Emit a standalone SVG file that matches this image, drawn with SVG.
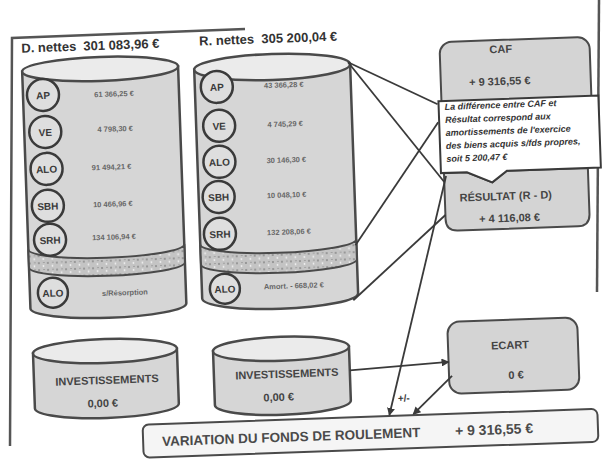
<svg xmlns="http://www.w3.org/2000/svg" width="604" height="468" viewBox="0 0 604 468">
<defs>
<style>
.cyl{fill:#d6d6d6;stroke:#4a4a4a;stroke-width:2.5}
.top{fill:#ebebeb;stroke:#4a4a4a;stroke-width:2.5}
.band{fill:url(#speck);stroke:#4a4a4a;stroke-width:2}
.circ{fill:#dedede;stroke:#3a3a3a;stroke-width:2.5}
.ct{font-family:"Liberation Sans",Arial,sans-serif;font-weight:bold;font-size:10px;fill:#3a3a3a;text-anchor:middle}
.val{font-family:"Liberation Sans",Arial,sans-serif;font-weight:bold;font-size:7.5px;fill:#666;text-anchor:middle}
.ttl{font-family:"Liberation Sans",Arial,sans-serif;font-weight:bold;font-size:13px;fill:#333}
.big{font-family:"Liberation Sans",Arial,sans-serif;font-weight:bold;font-size:11px;fill:#444;text-anchor:middle}
.lbl{font-family:"Liberation Sans",Arial,sans-serif;font-weight:bold;fill:#4a4a4a;text-anchor:start}
.box{fill:#d4d4d4;stroke:#4a4a4a;stroke-width:2}
.note{font-family:"Liberation Sans",Arial,sans-serif;font-weight:bold;font-style:italic;font-size:9px;fill:#333}
.con{stroke:#3a3a3a;stroke-width:1.8;fill:none}
.frm{stroke:#555;stroke-width:2.5;fill:none}
</style>
<pattern id="speck" width="9" height="7" patternUnits="userSpaceOnUse">
<rect width="9" height="7" fill="#c4c4c4"/>
<circle cx="2" cy="2" r="1" fill="#8a8a8a"/>
<circle cx="6.5" cy="5" r="0.9" fill="#f2f2f2"/>
<circle cx="7" cy="1.5" r="0.6" fill="#777"/>
</pattern>
<marker id="ah" markerWidth="8" markerHeight="8" refX="7" refY="4" orient="auto" markerUnits="userSpaceOnUse">
<path d="M0,0 L8,4 L0,8 z" fill="#3a3a3a"/>
</marker>
</defs>
<rect width="604" height="468" fill="#ffffff"/>
<g id="frame">
<path class="frm" d="M10,446 L12,38 L245,29"/>
<path class="frm" d="M599,0 L597,292"/>
</g>
<g transform="rotate(-2 302 234)">
<g id="depenses">
<text class="ttl" x="28" y="43" xml:space="preserve">D. nettes  301 083,96 €</text>
<path class="cyl" d="M28,62 L28,299 A78,12 0 0 0 184,299 L184,62 Z"/>
<ellipse class="top" cx="106" cy="62" rx="78" ry="12"/>
<path class="band" d="M28,240 A78,11 0 0 0 184,240 L184,258 A78,11 0 0 1 28,258 Z"/>
<g id="d-ap"><circle class="circ" cx="48" cy="86" r="16"/><text class="ct" x="48" y="90">AP</text><text class="val" x="119" y="90">61 366,25 €</text></g>
<g id="d-ve"><circle class="circ" cx="49" cy="123" r="16"/><text class="ct" x="49" y="127">VE</text><text class="val" x="119" y="125">4 798,30 €</text></g>
<g id="d-alo"><circle class="circ" cx="49" cy="160" r="16"/><text class="ct" x="49" y="164">ALO</text><text class="val" x="114" y="163">91 494,21 €</text></g>
<g id="d-sbh"><circle class="circ" cx="49" cy="197" r="16"/><text class="ct" x="49" y="201">SBH</text><text class="val" x="114" y="200">10 466,96 €</text></g>
<g id="d-srh"><circle class="circ" cx="50" cy="231" r="16"/><text class="ct" x="50" y="235">SRH</text><text class="val" x="114" y="233">134 106,94 €</text></g>
<g id="d-alo2"><circle class="circ" cx="51" cy="284" r="15"/><text class="ct" x="51" y="288">ALO</text><text class="val" x="123" y="289">s/Résorption</text></g>
</g>
<g id="recettes">
<text class="ttl" x="206" y="42" xml:space="preserve">R. nettes  305 200,04 €</text>
<path class="cyl" d="M200,66 L200,295 A78,13 0 0 0 356,295 L356,66 Z"/>
<ellipse class="top" cx="278" cy="66" rx="78" ry="13"/>
<path class="band" d="M200,241 A78,11 0 0 0 356,241 L356,261 A78,11 0 0 1 200,261 Z"/>
<g id="r-ap"><circle class="circ" cx="222" cy="84" r="16"/><text class="ct" x="222" y="88">AP</text><text class="val" x="289" y="87">43 366,28 €</text></g>
<g id="r-ve"><circle class="circ" cx="223" cy="123" r="16"/><text class="ct" x="223" y="127">VE</text><text class="val" x="289" y="126">4 745,29 €</text></g>
<g id="r-alo"><circle class="circ" cx="222" cy="159" r="16"/><text class="ct" x="222" y="163">ALO</text><text class="val" x="289" y="162">30 146,30 €</text></g>
<g id="r-sbh"><circle class="circ" cx="220" cy="194" r="16"/><text class="ct" x="220" y="198">SBH</text><text class="val" x="288" y="197">10 048,10 €</text></g>
<g id="r-srh"><circle class="circ" cx="220" cy="231" r="16"/><text class="ct" x="220" y="235">SRH</text><text class="val" x="289" y="234">132 208,06 €</text></g>
<g id="r-alo2"><circle class="circ" cx="223" cy="286" r="15"/><text class="ct" x="223" y="290">ALO</text><text class="val" x="292" y="288">Amort. - 668,02 €</text></g>
</g>
<g id="invest-d">
<path class="cyl" d="M29,344 L29,399 A72,12 0 0 0 173,399 L173,344 Z"/>
<ellipse class="top" cx="101" cy="344" rx="72" ry="12"/>
<text class="big" x="102" y="377" font-size="10">INVESTISSEMENTS</text>
<text class="big" x="97" y="400">0,00 €</text>
</g>
<g id="invest-r">
<path class="cyl" d="M209,348 L209,402 A68,12 0 0 0 345,402 L345,348 Z"/>
<ellipse class="top" cx="277" cy="348" rx="68" ry="12"/>
<text class="big" x="282" y="377" font-size="10">INVESTISSEMENTS</text>
<text class="big" x="273" y="400">0,00 €</text>
</g>
<g id="caf">
<rect class="box" x="446" y="47" width="150" height="70" rx="12"/>
<text class="big" x="507" y="60" font-size="14">CAF</text>
<text class="big" x="505" y="92" font-size="13">+ 9 316,55 €</text>
</g>
<g id="resultat">
<path class="box" d="M446,178 L469,178 L494,189 L509,178 L590,178 L590,224 Q590,236 578,236 L458,236 Q446,236 446,224 Z"/>
<text class="big" x="507" y="207" font-size="11.5">RÉSULTAT  (R - D)</text>
<text class="big" x="510" y="229" font-size="12.5">+ 4 116,08 €</text>
</g>
<g id="note">
<path d="M443,106 L603,106 L603,178 L509,178 L494,189 L469,178 L443,178 Z" fill="#ffffff" stroke="#3a3a3a" stroke-width="2"/>
<text class="note" x="449" y="115">La différence entre CAF et</text>
<text class="note" x="449" y="128">Résultat correspond aux</text>
<text class="note" x="449" y="141">amortissements de l'exercice</text>
<text class="note" x="449" y="154">des biens acquis s/fds propres,</text>
<text class="note" x="449" y="167">soit 5 200,47 €</text>
</g>
<g id="ecart">
<rect class="box" x="444" y="327" width="130" height="72" rx="12"/>
<text class="big" x="506" y="356" font-size="13">ECART</text>
<text class="big" x="511" y="386" font-size="13">0 €</text>
</g>
<g id="variation">
<rect x="136" y="419" width="455" height="33" rx="6" fill="#f5f5f5" stroke="#4a4a4a" stroke-width="2"/>
<text class="lbl" x="155" y="441" font-size="13.5">VARIATION DU FONDS DE ROULEMENT</text>
<text class="lbl" x="448" y="441" font-size="14">+ 9 316,55 €</text>
</g>
<g id="connectors">
<line class="con" x1="354" y1="64" x2="442" y2="109"/>
<line class="con" x1="354" y1="64" x2="446" y2="187"/>
<line class="con" x1="355" y1="247" x2="442" y2="127"/>
<line class="con" x1="351" y1="302" x2="446" y2="220"/>
<line class="con" x1="448" y1="181" x2="383" y2="418" marker-end="url(#ah)"/>
<line class="con" x1="345" y1="372" x2="444" y2="367" marker-end="url(#ah)"/>
<line class="con" x1="447" y1="381" x2="407" y2="418" marker-end="url(#ah)"/>
<text class="ct" x="398" y="405" font-size="8">+/-</text>
</g>
</g>
</svg>
